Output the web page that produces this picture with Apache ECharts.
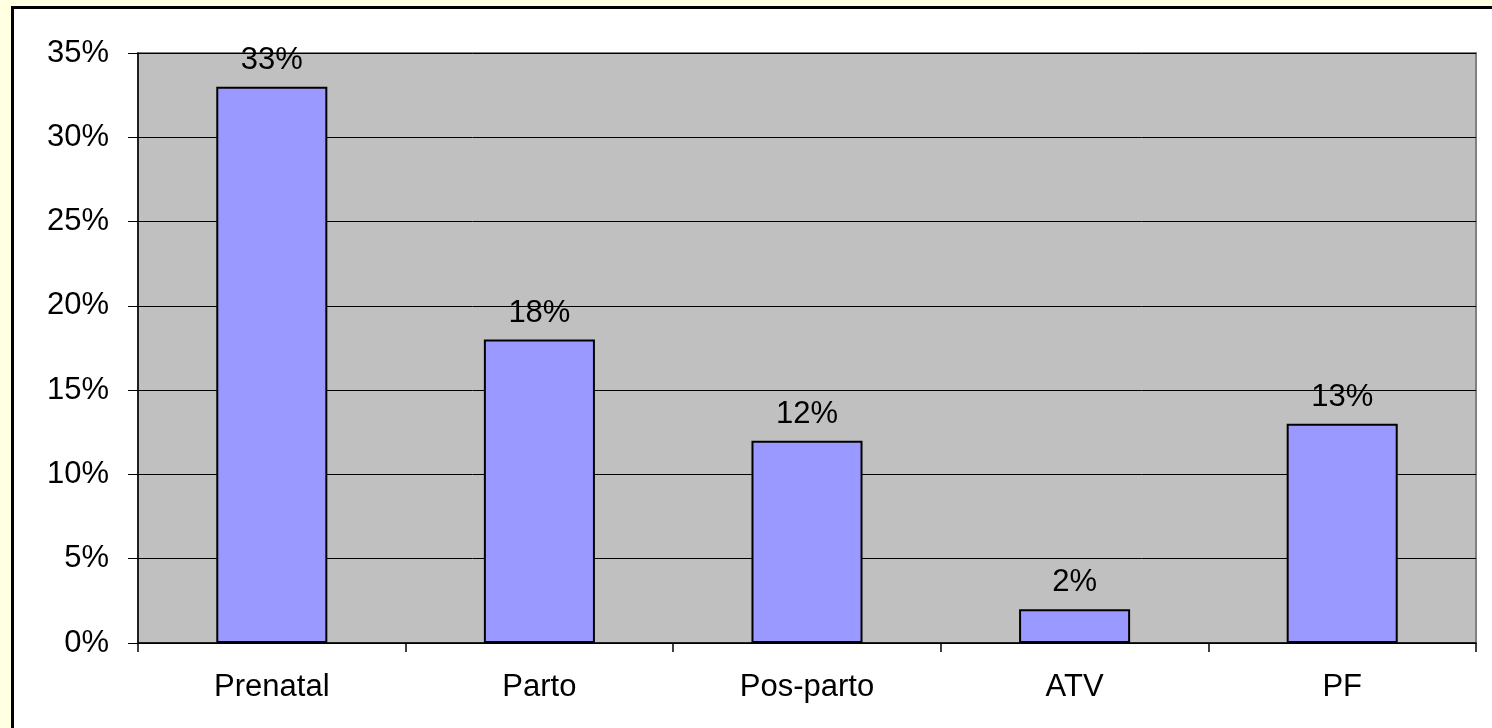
<!DOCTYPE html>
<html>
<head>
<meta charset="utf-8">
<script src="https://cdn.jsdelivr.net/npm/echarts@6/dist/echarts.min.js"></script>
<style>
html,body{margin:0;padding:0;width:1492px;height:728px;overflow:hidden;background:#FFFFE1;}
#frame{position:absolute;left:11px;top:6px;width:1600px;height:900px;border:3px solid #000;background:#fff;}
#chart{position:absolute;left:0;top:0;width:1492px;height:728px;}
</style>
</head>
<body>
<div id="frame"></div>
<div id="chart"></div>
<script>
const categories = ['Prenatal', 'Parto', 'Pos-parto', 'ATV', 'PF'];
const values = [33, 18, 12, 2, 13];
const yTicks = [0, 5, 10, 15, 20, 25, 30, 35];

const FONT = '"Liberation Sans", Arial, sans-serif';
const FS = 31;
const chart = echarts.init(document.getElementById('chart'), null, {renderer: 'canvas'});
chart.setOption({
  animation: false,
  backgroundColor: 'transparent',
  grid: {
    left: 138, top: 53, right: 16, bottom: 85,
    show: true, backgroundColor: '#C0C0C0', borderColor: '#808080', borderWidth: 2
  },
  xAxis: {
    type: 'category',
    data: categories,
    boundaryGap: true,
    axisLine: {show: true, lineStyle: {color: '#000', width: 1.5}},
    axisTick: {show: true, length: 9, alignWithLabel: false, lineStyle: {color: '#000', width: 1.5}},
    axisLabel: {color: '#000', fontFamily: FONT, fontSize: FS, margin: 29}
  },
  yAxis: {
    type: 'value',
    min: yTicks[0], max: yTicks[yTicks.length - 1], interval: 5,
    axisLine: {show: true, lineStyle: {color: '#000', width: 1.5}},
    axisTick: {show: true, length: 10, lineStyle: {color: '#000', width: 1}},
    axisLabel: {color: '#000', fontFamily: FONT, fontSize: FS, margin: 29, formatter: v => v + '%'},
    splitLine: {show: true, lineStyle: {color: '#000', width: 1}}
  },
  series: [{
    type: 'bar',
    data: values,
    barWidth: '41.5%',
    itemStyle: {color: '#9999FF', borderColor: '#000', borderWidth: 2},
    label: {show: true, position: 'top', distance: 11, color: '#000', fontFamily: FONT, fontSize: FS, formatter: p => p.value + '%'}
  }]
});
</script>
</body>
</html>
